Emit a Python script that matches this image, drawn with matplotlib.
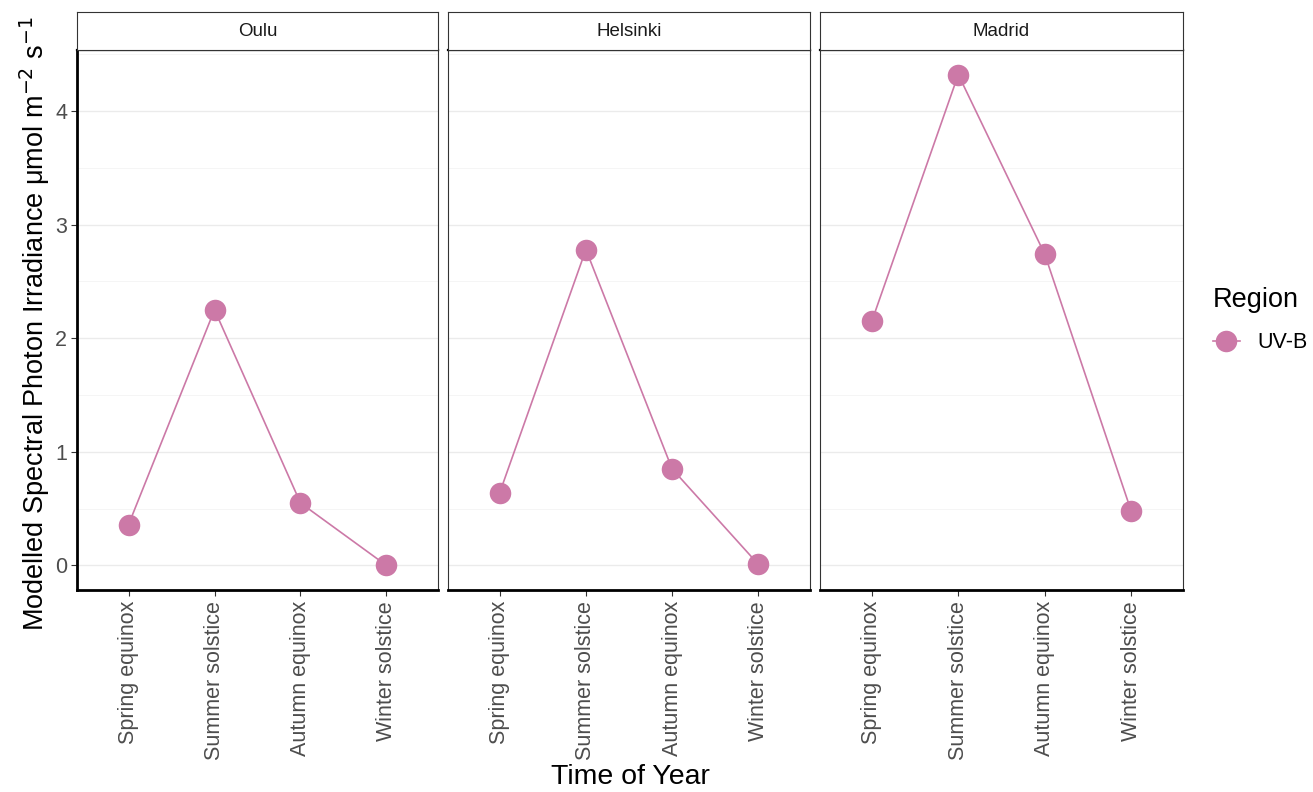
import matplotlib
matplotlib.use("Agg")
import matplotlib.pyplot as plt
from matplotlib.lines import Line2D
import numpy as np

plt.rcParams["font.family"] = ["Liberation Sans", "DejaVu Sans"]

# ---------- data ----------
seasons = ["Spring equinox", "Summer solstice", "Autumn equinox", "Winter solstice"]
regions = ["Oulu", "Helsinki", "Madrid"]
oulu = [0.36, 2.25, 0.55, 0.00]
helsinki = [0.64, 2.78, 0.85, 0.01]
madrid = [2.15, 4.32, 2.74, 0.48]
series = [oulu, helsinki, madrid]

colour = "#CC79A7"
W, H = 1313, 792

fig = plt.figure(figsize=(W / 100, H / 100), dpi=100, facecolor="white")

def px(x0, y0, x1, y1):
    # pixel box (top-left origin) -> figure fraction
    return [x0 / W, 1 - y1 / H, (x1 - x0) / W, (y1 - y0) / H]

panel_x = [(77, 438), (448, 810), (820, 1183)]
top, bottom, strip_top = 50, 590, 12

ymax = max(max(s) for s in series)
pad = ymax * 0.05
x = np.arange(1, len(seasons) + 1)

for k, (name, vals) in enumerate(zip(regions, series)):
    x0, x1 = panel_x[k]
    ax = fig.add_axes(px(x0, top, x1, bottom))
    ax.set_xlim(0.4, 4.6)
    ax.set_ylim(-pad, ymax + pad)

    for v in np.arange(0, 5):
        ax.axhline(v, color="#EBEBEB", lw=1.0, zorder=0)
    for v in np.arange(0.5, 4.6, 1.0):
        ax.axhline(v, color="#F4F4F4", lw=0.6, zorder=0)

    ax.plot(x, vals, color=colour, lw=1.2, zorder=2)
    ax.plot(x, vals, "o", color=colour, ms=15.5, mec="none", zorder=3)

    ax.set_xticks(x)
    ax.set_xticklabels(seasons, rotation=90, fontsize=15.5, color="#4D4D4D")
    ax.tick_params(axis="x", length=4, color="#333333", pad=4)
    ax.set_yticks([0, 1, 2, 3, 4])
    if k == 0:
        ax.set_yticklabels(["0", "1", "2", "3", "4"], fontsize=15.5, color="#4D4D4D")
        ax.tick_params(axis="y", length=4, color="#333333", pad=3)
    else:
        ax.tick_params(axis="y", length=0, labelleft=False)

    for side in ["top", "right", "left"]:
        ax.spines[side].set_color("#333333")
        ax.spines[side].set_linewidth(0.8)
    ax.spines["bottom"].set_color("black")
    ax.spines["bottom"].set_linewidth(2.0)
    ax.spines["top"].set_color("black")
    ax.spines["top"].set_linewidth(1.6)
    if k == 0:
        ax.spines["left"].set_color("black")
        ax.spines["left"].set_linewidth(2.0)

    # facet strip
    sax = fig.add_axes(px(x0, strip_top, x1, top))
    sax.set_xticks([])
    sax.set_yticks([])
    for side in sax.spines.values():
        side.set_color("#333333")
        side.set_linewidth(0.8)
    sax.text(0.5, 0.5, name, ha="center", va="center", fontsize=13.5,
             color="#1A1A1A", transform=sax.transAxes)

fig.text(35 / W, 1 - 324 / H,
         "Modelled Spectral Photon Irradiance μmol m$^{-2}$ s$^{-1}$",
         rotation=90, ha="center", va="center", fontsize=19.5)
fig.text(630 / W, 1 - 777 / H, "Time of Year", ha="center", va="center", fontsize=20.5)

handle = Line2D([0], [0], color=colour, lw=1.2, marker="o", ms=15.5, mec="none")
fig.legend([handle], ["UV-B"], title="Region", loc="upper left",
           bbox_to_anchor=(1213 / W, 1 - 287 / H), frameon=False,
           borderpad=0, borderaxespad=0, labelspacing=0.9,
           fontsize=15.5, title_fontsize=19.5, handlelength=1.25,
           handletextpad=0.8, alignment="left")

fig.savefig("out.png", dpi=100, facecolor="white")
